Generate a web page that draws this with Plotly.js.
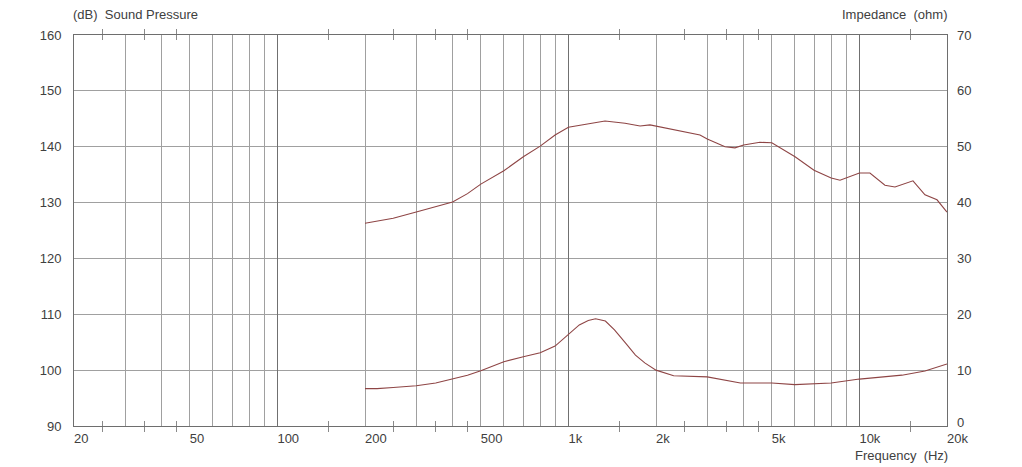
<!DOCTYPE html>
<html>
<head>
<meta charset="utf-8">
<script src="https://cdn.plot.ly/plotly-3.0.1.min.js"></script>
<style>
  html, body { margin: 0; padding: 0; background: #fff; }
  #chart { width: 1022px; height: 467px; }
</style>
</head>
<body>
<div id="chart"></div>
<script>
// Sound pressure (dB)
const splFreq = [200, 250, 300, 350, 400, 450, 500, 600, 700, 800, 900, 1000, 1186, 1336, 1565, 1763, 1907,
                 2000, 2416, 2833, 3000, 3453, 3736, 4000, 4553, 5000, 6010, 6982, 8000, 8576, 10000, 10870,
                 12240, 13250, 15280, 16800, 18480, 20000];
const splDb   = [126.3, 127.2, 128.3, 129.2, 130.1, 131.6, 133.3, 135.7, 138.2, 140.1, 142.1, 143.5, 144.2, 144.6, 144.2, 143.7, 143.9,
                 143.7, 142.8, 142.1, 141.4, 140.0, 139.8, 140.3, 140.8, 140.7, 138.2, 135.8, 134.4, 134.0, 135.3, 135.3,
                 133.1, 132.8, 133.9, 131.4, 130.5, 128.3];

// Impedance (ohm)
const impFreq = [200, 220, 250, 300, 350, 400, 450, 500, 600, 700, 800, 900, 1000, 1090, 1170, 1240, 1340, 1440, 1570, 1700, 1830,
                 2000, 2300, 3000, 3900, 5000, 6000, 8000, 10000, 14000, 16800, 20000];
const impOhm  = [6.7, 6.7, 6.9, 7.2, 7.7, 8.4, 9.1, 9.9, 11.5, 12.4, 13.1, 14.3, 16.3, 18.1, 18.9, 19.2, 18.8, 17.2, 14.9, 12.7, 11.3,
                 10.0, 9.0, 8.8, 7.7, 7.7, 7.4, 7.7, 8.4, 9.1, 9.85, 11.1];

// axis labels
const xTickVals = [20, 50, 100, 200, 500, 1000, 2000, 5000, 10000, 20000];
const xTickText = ['20', '50', '100', '200', '500', '1k', '2k', '5k', '10k', '20k'];
const xGridVals = [30, 40, 50, 60, 70, 80, 90, 200, 300, 400, 500, 600, 700, 800, 900,
                   2000, 3000, 4000, 5000, 6000, 7000, 8000, 9000];
const xDecades = [100, 1000, 10000];
const xSmallTicks = [25, 35, 45, 150, 250, 350, 450, 1500, 2500, 3500, 4500, 15000];
const impTickVals = [10, 20, 30, 40, 50, 60, 70];

const lineColor = '#8e4545';
const gridColor = '#a0a0a0';
const textColor = '#404040';
const font = { family: 'Liberation Sans, Arial, sans-serif', size: 13, color: textColor };

const xRange = [Math.log10(20), Math.log10(20000)];

const traces = [
  { x: splFreq, y: splDb, type: 'scatter', mode: 'lines', line: { color: lineColor, width: 1.1 },
    xaxis: 'x', yaxis: 'y' },
  { x: impFreq, y: impOhm, type: 'scatter', mode: 'lines', line: { color: lineColor, width: 1.1 },
    xaxis: 'x', yaxis: 'y2' },
  // empty traces so the overlay axes (labels, decade lines) get drawn
  { x: [20, 20000], y: [90, 90], xaxis: 'x2', yaxis: 'y', mode: 'lines',
    line: { width: 0, color: 'rgba(0,0,0,0)' }, hoverinfo: 'skip' },
  { x: [20, 20000], y: [90, 90], xaxis: 'x3', yaxis: 'y', mode: 'lines',
    line: { width: 0, color: 'rgba(0,0,0,0)' }, hoverinfo: 'skip' }
];

const layout = {
  width: 1022, height: 467,
  margin: { l: 74, r: 75, t: 35, b: 41 },
  paper_bgcolor: '#fff', plot_bgcolor: '#fff',
  showlegend: false,
  font: font,
  // main x axis: small half-way ticks + grid
  xaxis: {
    type: 'log', range: xRange,
    tickmode: 'array', tickvals: xSmallTicks, ticks: 'inside', ticklen: 5, tickwidth: 1, tickcolor: '#8a8a8a',
    showticklabels: false, showgrid: false,
    minor: { tickmode: 'array', tickvals: xGridVals, showgrid: true, gridcolor: gridColor, gridwidth: 1, ticks: '' },
    showline: true, linecolor: '#6e6e6e', linewidth: 1, mirror: 'allticks',
    zeroline: false
  },
  // labels
  xaxis2: {
    type: 'log', overlaying: 'x', anchor: 'y', range: xRange,
    tickmode: 'array', tickvals: xTickVals, ticktext: xTickText,
    ticklabelposition: 'outside right', ticks: '', ticklabelstandoff: 3,
    showgrid: false, showline: false, zeroline: false, tickfont: font
  },
  // darker decade lines
  xaxis3: {
    type: 'log', overlaying: 'x', anchor: 'y', range: xRange,
    tickmode: 'array', tickvals: xDecades, ticks: '',
    showticklabels: false, showgrid: true, gridcolor: '#707070', gridwidth: 1,
    showline: false, zeroline: false
  },
  yaxis: {
    range: [90, 160], dtick: 10, tick0: 90,
    ticks: '', ticklabelstandoff: 9,
    showgrid: true, gridcolor: gridColor, gridwidth: 1,
    showline: true, linecolor: '#6e6e6e', linewidth: 1, mirror: true,
    zeroline: false, tickfont: font
  },
  yaxis2: {
    range: [0, 70], tickmode: 'array', tickvals: impTickVals,
    overlaying: 'y', side: 'right',
    ticks: '', ticklabelstandoff: 9,
    showgrid: false, zeroline: false, tickfont: font
  },
  annotations: [
    { text: '(dB)  Sound Pressure', xref: 'paper', yref: 'paper', x: 0, y: 1, xshift: -3, yshift: 11,
      xanchor: 'left', yanchor: 'bottom', showarrow: false, font: font },
    { text: 'Impedance  (ohm)', xref: 'paper', yref: 'paper', x: 1, y: 1, xshift: 3, yshift: 11,
      xanchor: 'right', yanchor: 'bottom', showarrow: false, font: font },
    { text: 'Frequency  (Hz)', xref: 'paper', yref: 'paper', x: 1, y: 0, xshift: 3, yshift: -20,
      xanchor: 'right', yanchor: 'top', showarrow: false, font: font },
    // impedance "0" sits just above the 20k label
    { text: '0', xref: 'paper', yref: 'y2', x: 1, y: 0, xshift: 8, yshift: 4,
      xanchor: 'left', yanchor: 'middle', showarrow: false, font: font }
  ]
};

Plotly.newPlot('chart', traces, layout, { displayModeBar: false, staticPlot: true });
</script>
</body>
</html>
